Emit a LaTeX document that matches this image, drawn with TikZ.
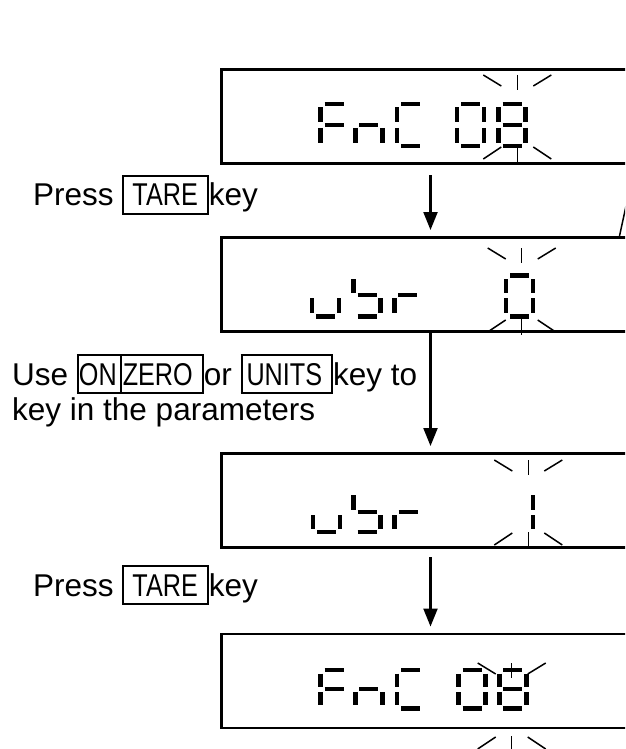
\documentclass[tikz,border=0pt]{standalone}
\usepackage{fontspec}
\setmainfont{Liberation Sans}
\usepackage{graphicx}
\usetikzlibrary{arrows.meta,positioning}

\tikzstyle{disp} = [draw, line width=2.7pt, rectangle, anchor=north west, minimum width=500pt, minimum height=94pt, inner sep=0pt]
\tikzstyle{seg} = [line width=4.5pt]
\tikzstyle{ray} = [line width=1.5pt]
\tikzstyle{flow} = [line width=2.2pt, -{Triangle[length=18pt,width=14pt]}, shorten >=6pt]
\tikzstyle{txt} = [anchor=base west, inner sep=0pt, font=\fontsize{31.5}{35}\selectfont]

\setlength{\fboxsep}{0pt}
\setlength{\fboxrule}{2pt}
\newcommand{\keycap}[3]{\fbox{\rule[-7pt]{0pt}{36pt}\hspace{#1}#2\hspace{#3}}}
\newcommand{\kn}[1]{\scalebox{0.8}[1]{#1}}

\newcommand{\segA}[1]{\draw[seg] (#1+4,\yt) -- (#1+23,\yt);}
\newcommand{\segG}[1]{\draw[seg] (#1+4,\ym) -- (#1+23,\ym);}
\newcommand{\segD}[1]{\draw[seg] (#1+4,\yb) -- (#1+23,\yb);}
\newcommand{\segF}[1]{\draw[seg] (#1,\yt+3.5) -- (#1,\ym-2.5);}
\newcommand{\segB}[1]{\draw[seg] (#1+27,\yt+3.5) -- (#1+27,\ym-2.5);}
\newcommand{\segE}[1]{\draw[seg] (#1,\ym+3) -- (#1,\yb-3.5);}
\newcommand{\segC}[1]{\draw[seg] (#1+27,\ym+3) -- (#1+27,\yb-3.5);}

\newcommand{\digF}[1]{\segA{#1}\segF{#1}\segG{#1}\segE{#1}}
\newcommand{\dign}[1]{\segG{#1}\segE{#1}\segC{#1}}
\newcommand{\digC}[1]{\segA{#1}\segF{#1}\segE{#1}\segD{#1}}
\newcommand{\digzero}[1]{\segA{#1}\segB{#1}\segC{#1}\segD{#1}\segE{#1}\segF{#1}}
\newcommand{\digeight}[1]{\digzero{#1}\segG{#1}}
\newcommand{\digu}[1]{\segE{#1}\segD{#1}\segC{#1}}
\newcommand{\digb}[1]{\segF{#1}\segG{#1}\segC{#1}\segD{#1}}
\newcommand{\digr}[1]{\segE{#1}\segG{#1}}
\newcommand{\digone}[1]{\segB{#1}\segC{#1}}

\newcommand{\flash}[3]{
  \draw[ray] (#1,#2) -- (#1,#2+15);
  \draw[ray] (#1-34,#2) -- (#1-16,#2+11);
  \draw[ray] (#1+34,#2) -- (#1+16,#2+11);
  \draw[ray] (#1,#3) -- (#1,#3+16);
  \draw[ray] (#1-34,#3+13) -- (#1-16,#3+1);
  \draw[ray] (#1+34,#3+13) -- (#1+16,#3+1);
}

\begin{document}
\begin{tikzpicture}[x=1pt, y=-1pt]
\useasboundingbox (0,0) rectangle (625,749);
\clip (0,0) rectangle (625,749);

\node[disp] (d1) at (220,68) {};
\node[disp] (d2) at (220,236) {};
\node[disp] (d3) at (220,452) {};
\node[disp] (d4) at (220,632.5) {};

\def\yt{104}\def\ym{125}\def\yb{146}
\digF{320.7} \dign{355.3} \digC{397} \digzero{457} \digeight{498.5}
\flash{517.3}{75}{146}

\def\yt{275.5}\def\ym{295}\def\yb{316.5}
\digu{312} \digb{353.7} \digr{394.3} \digzero{506}
\flash{521.7}{248}{319}

\def\yt{491.5}\def\ym{512}\def\yb{532}
\digu{313} \digb{353.7} \digr{394.7} \digone{506}
\flash{528.3}{460}{532}

\def\yt{670}\def\ym{689}\def\yb{708.5}
\digF{320.7} \dign{355.3} \digC{397} \digzero{458.7} \digeight{499.3}
\flash{511.7}{663}{736}

\coordinate (cut) at (626,206);
\draw[ray] (d2.north -| 619.5,0) -- (cut);

\node[txt] (press1) at (33,205.7) {Press \keycap{8pt}{\kn{TARE}}{9pt}key};
\node[txt, align=left] (use) at (12,420) {Use \keycap{0pt}{\kn{ON}\kern3pt\vrule width 2pt\kern1pt\kn{ZERO}}{9pt}or \keycap{4pt}{\kn{UNITS}}{9pt}key to\\key in the parameters};
\node[txt] (press2) at (33,596) {Press \keycap{8pt}{\kn{TARE}}{9pt}key};

\coordinate (s1) at (430.5,175);
\coordinate (s3) at (430.5,557);
\draw[flow] (s1) -- (d2.north -| s1);
\draw[flow] (d2.south -| s1) -- (d3.north -| s1);
\draw[flow] (s3) -- (d4.north -| s3);
\end{tikzpicture}
\end{document}
